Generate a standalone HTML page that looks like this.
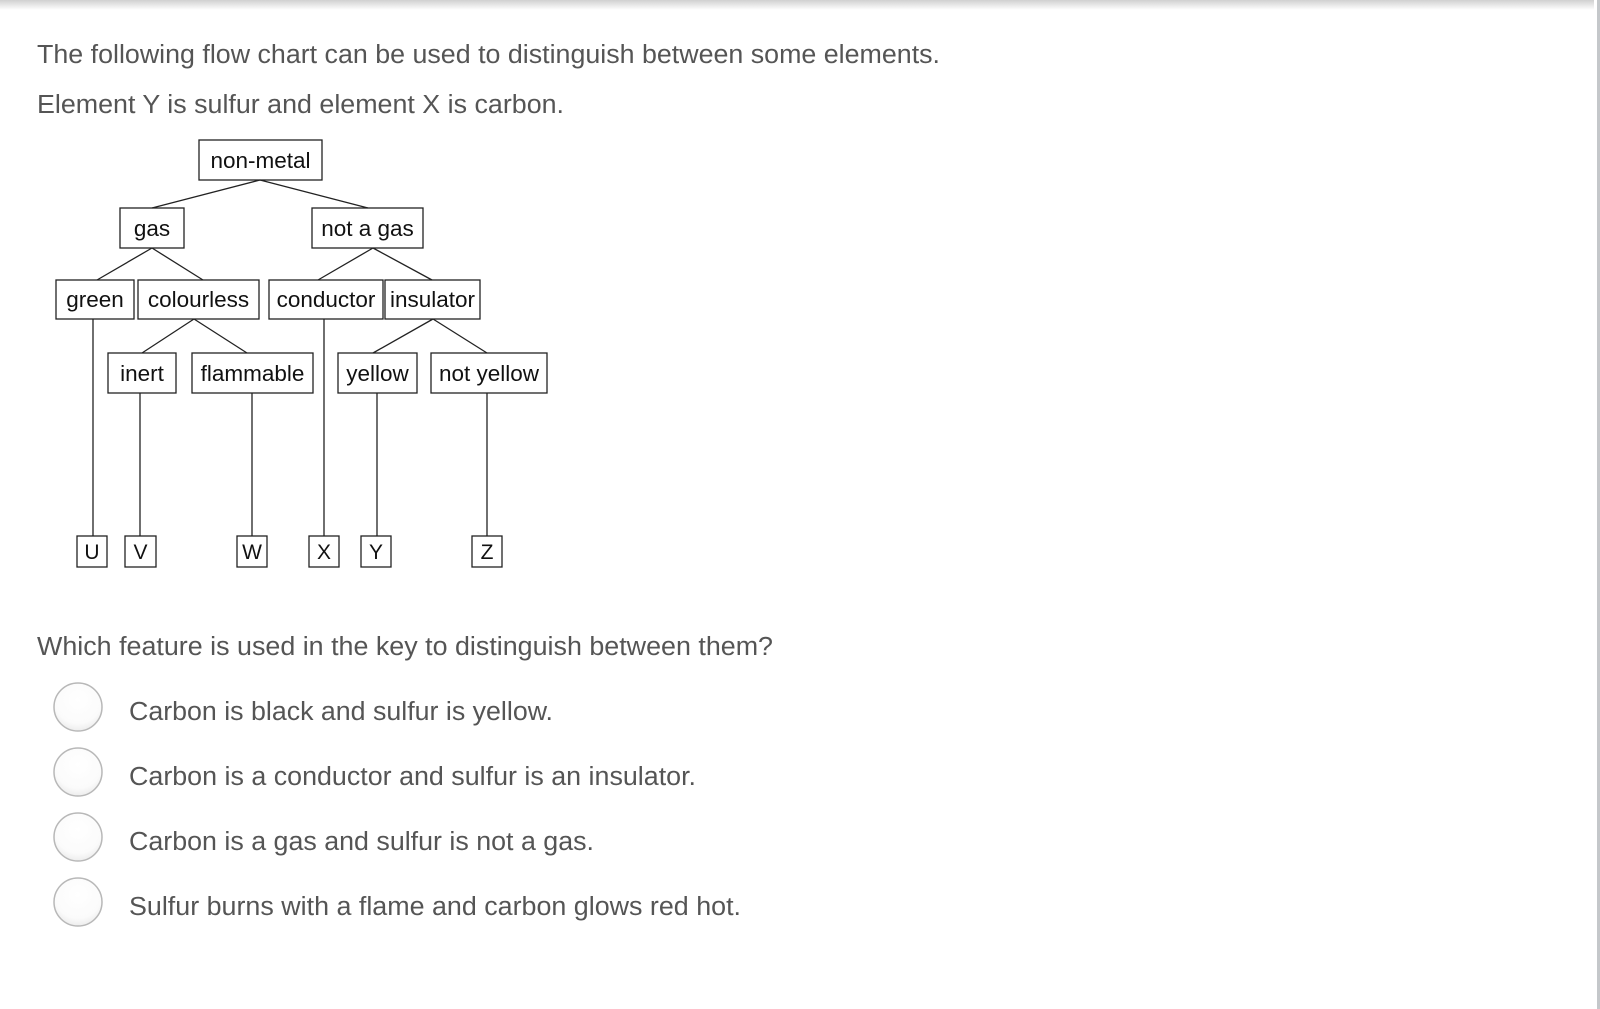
<!DOCTYPE html>
<html><head><meta charset="utf-8"><style>
html,body{margin:0;padding:0;background:#fff;width:1600px;height:1009px;overflow:hidden;}
svg{display:block}
</style></head><body>
<svg width="1600" height="1009" viewBox="0 0 1600 1009" xmlns="http://www.w3.org/2000/svg">
<defs>
<linearGradient id="sh" x1="0" y1="0" x2="0" y2="1">
<stop offset="0" stop-color="#d0d0d0"/><stop offset="1" stop-color="#ffffff"/>
</linearGradient>
<radialGradient id="rb" cx="0.5" cy="0.35" r="0.7">
<stop offset="0" stop-color="#ffffff"/><stop offset="0.7" stop-color="#fbfbfb"/><stop offset="1" stop-color="#e8e8e8"/>
</radialGradient>
</defs>
<rect x="0" y="0" width="1594" height="10" fill="url(#sh)"/>
<rect x="1597" y="0" width="3" height="1009" fill="#c4c7ca"/>
<g font-family="Liberation Sans, Arial, sans-serif" font-size="25.5" fill="#555" lengthAdjust="spacingAndGlyphs">
<text x="37" y="63" textLength="903" lengthAdjust="spacingAndGlyphs">The following flow chart can be used to distinguish between some elements.</text>
<text x="37" y="113" textLength="527" lengthAdjust="spacingAndGlyphs">Element Y is sulfur and element X is carbon.</text>
<text x="37" y="655" textLength="736" lengthAdjust="spacingAndGlyphs">Which feature is used in the key to distinguish between them?</text>
<text x="129" y="720" textLength="424" lengthAdjust="spacingAndGlyphs">Carbon is black and sulfur is yellow.</text>
<text x="129" y="785" textLength="567" lengthAdjust="spacingAndGlyphs">Carbon is a conductor and sulfur is an insulator.</text>
<text x="129" y="850" textLength="465" lengthAdjust="spacingAndGlyphs">Carbon is a gas and sulfur is not a gas.</text>
<text x="129" y="915" textLength="612" lengthAdjust="spacingAndGlyphs">Sulfur burns with a flame and carbon glows red hot.</text>
</g>
<g fill="url(#rb)" stroke="#b8b8b8" stroke-width="1.5">
<circle cx="78" cy="707" r="24"/>
<circle cx="78" cy="772" r="24"/>
<circle cx="78" cy="837" r="24"/>
<circle cx="78" cy="902" r="24"/>
</g>
<g stroke="#222" stroke-width="1.3" fill="none">
<line x1="260" y1="180" x2="152" y2="208"/>
<line x1="260" y1="180" x2="368" y2="208"/>
<line x1="152" y1="248" x2="97" y2="280"/>
<line x1="152" y1="248" x2="203" y2="280"/>
<line x1="373" y1="248" x2="318" y2="280"/>
<line x1="373" y1="248" x2="432" y2="280"/>
<line x1="194" y1="319" x2="142" y2="353"/>
<line x1="194" y1="319" x2="247" y2="353"/>
<line x1="433" y1="319" x2="373" y2="353"/>
<line x1="433" y1="319" x2="487" y2="353"/>
<line x1="93" y1="319" x2="93" y2="536"/>
<line x1="324" y1="319" x2="324" y2="536"/>
<line x1="140" y1="393" x2="140" y2="536"/>
<line x1="252" y1="393" x2="252" y2="536"/>
<line x1="377" y1="393" x2="377" y2="536"/>
<line x1="487" y1="393" x2="487" y2="536"/>
<rect x="199" y="140" width="123" height="40"/>
<rect x="120" y="208" width="64" height="40"/>
<rect x="312" y="208" width="111" height="40"/>
<rect x="56" y="280" width="78" height="39"/>
<rect x="138" y="280" width="121" height="39"/>
<rect x="269" y="280" width="114" height="39"/>
<rect x="385" y="280" width="95" height="39"/>
<rect x="108" y="353" width="68" height="40"/>
<rect x="192" y="353" width="121" height="40"/>
<rect x="338" y="353" width="79" height="40"/>
<rect x="431" y="353" width="116" height="40"/>
<rect x="77" y="536" width="30" height="31"/>
<rect x="125" y="536" width="31" height="31"/>
<rect x="237" y="536" width="30" height="31"/>
<rect x="309" y="536" width="30" height="31"/>
<rect x="361" y="536" width="30" height="31"/>
<rect x="472" y="536" width="30" height="31"/>
</g>
<g font-family="Liberation Sans, Arial, sans-serif" font-size="22.5" fill="#111" text-anchor="middle">
<text x="260.5" y="168">non-metal</text>
<text x="152" y="236">gas</text>
<text x="367.5" y="236">not a gas</text>
<text x="95" y="307">green</text>
<text x="198.5" y="307">colourless</text>
<text x="326" y="307">conductor</text>
<text x="432.5" y="307">insulator</text>
<text x="142" y="381">inert</text>
<text x="252.5" y="381">flammable</text>
<text x="377.5" y="381">yellow</text>
<text x="489" y="381">not yellow</text>
</g>
<g font-family="Liberation Sans, Arial, sans-serif" font-size="21" fill="#111" text-anchor="middle">
<text x="92" y="559">U</text>
<text x="140.5" y="559">V</text>
<text x="252" y="559">W</text>
<text x="324" y="559">X</text>
<text x="376" y="559">Y</text>
<text x="487" y="559">Z</text>
</g>
</svg>
</body></html>
